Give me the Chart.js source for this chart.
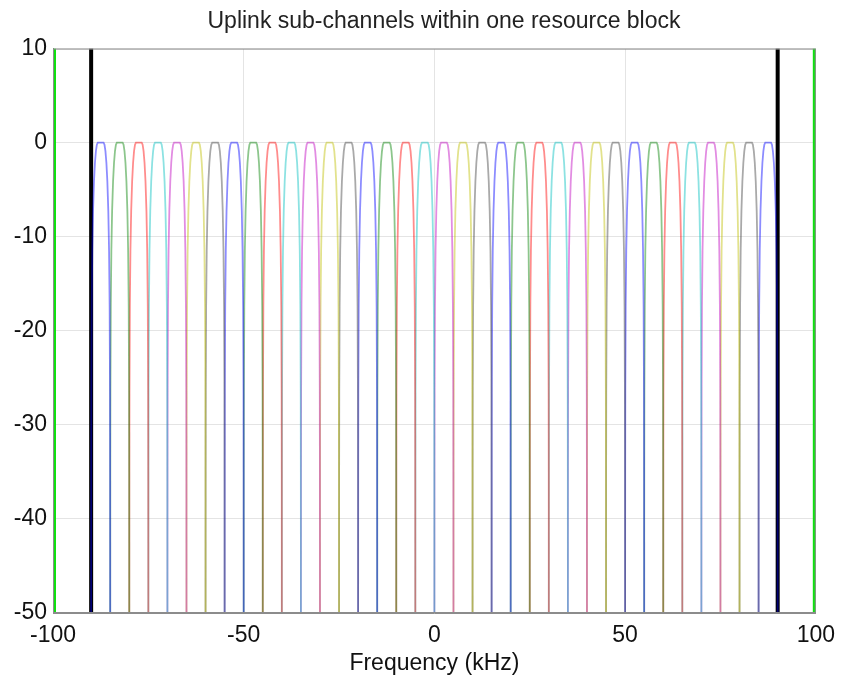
<!DOCTYPE html>
<html>
<head>
<meta charset="utf-8">
<title>Uplink sub-channels within one resource block</title>
<script src="https://cdn.jsdelivr.net/npm/chart.js@4"></script>
<style>
  html, body { margin: 0; padding: 0; background: #ffffff; }
  #wrap { width: 844px; height: 681px; }
</style>
</head>
<body>
<div id="wrap"><canvas id="chart" width="844" height="681"></canvas></div>
<script>
// Sub-channel centre frequencies (kHz): 36 channels, 5 kHz apart
const channelCenters = [
  -87.5, -82.5, -77.5, -72.5, -67.5, -62.5, -57.5, -52.5, -47.5,
  -42.5, -37.5, -32.5, -27.5, -22.5, -17.5, -12.5, -7.5, -2.5,
   2.5,   7.5,  12.5,  17.5,  22.5,  27.5,  32.5,  37.5,  42.5,
  47.5,  52.5,  57.5,  62.5,  67.5,  72.5,  77.5,  82.5,  87.5
];

// Passband response of one sub-channel: offset from centre (kHz) and level (dB)
const shapeOffsets = [-2.5, -2.48, -2.45, -2.35, -2.2, -2.0, -1.75, -1.5, -1.25, -1.0, -0.75,
                       0.75, 1.0, 1.25, 1.5, 1.75, 2.0, 2.2, 2.35, 2.45, 2.48, 2.5];
const shapeLevels  = [-50, -35, -26.7, -17.4, -11.5, -7.25, -4.1, -2.14, -0.91, -0.22, 0,
                       0, -0.22, -0.91, -2.14, -4.1, -7.25, -11.5, -17.4, -26.7, -35, -50];

// Resource block edges (kHz) and the outer band edges (kHz)
const blockEdges = [-90, 90];
const bandEdges = [-100, 100];

// Axis ticks
const xTicks = [-100, -50, 0, 50, 100];
const yTicks = [-50, -40, -30, -20, -10, 0, 10];

// Line colours cycled over the channels
const channelColors = [
  'rgba(0,0,255,0.45)',
  'rgba(0,128,0,0.45)',
  'rgba(255,0,0,0.45)',
  'rgba(0,191,191,0.45)',
  'rgba(191,0,191,0.45)',
  'rgba(191,191,0,0.45)',
  'rgba(64,64,64,0.45)'
];

const FONT = "'Liberation Sans', Helvetica, Arial, sans-serif";

const datasets = [];
channelCenters.forEach((c, i) => {
  datasets.push({
    label: 'ch' + (i + 1),
    data: shapeOffsets.map((o, k) => ({ x: c + o, y: shapeLevels[k] })),
    borderColor: channelColors[i % channelColors.length],
    borderWidth: 1.8,
    pointRadius: 0,
    // a tiny tension keeps every vertex (no per-pixel path shortcut)
    tension: 0.001,
    fill: false
  });
});
blockEdges.forEach(x => {
  datasets.push({
    label: 'block edge',
    data: [{ x: x, y: -50 }, { x: x, y: 10 }],
    borderColor: '#000000',
    borderWidth: 4,
    pointRadius: 0,
    fill: false
  });
});
bandEdges.forEach(x => {
  datasets.push({
    label: 'band edge',
    data: [{ x: x, y: -50 }, { x: x, y: 10 }],
    borderColor: '#10e010',
    borderWidth: 6,
    pointRadius: 0,
    fill: false
  });
});

// Frame around the plotting area; title centred over the figure body
const boxPlugin = {
  id: 'box',
  afterLayout(chart) {
    const t = chart.titleBlock;
    if (t) { t.left = 71; t.right = 817; t.width = t.right - t.left; }
  },
  afterDatasetsDraw(chart) {
    const a = chart.chartArea, ctx = chart.ctx;
    ctx.save();
    ctx.strokeStyle = '#8c8c8c';
    ctx.lineWidth = 1;
    ctx.strokeRect(a.left + 0.5, a.top + 0.5, a.right - a.left - 1, a.bottom - a.top - 1);
    ctx.restore();
  }
};

new Chart(document.getElementById('chart'), {
  type: 'line',
  data: { datasets },
  plugins: [boxPlugin],
  options: {
    responsive: false,
    animation: false,
    layout: { padding: { left: 0, right: 27, top: 0, bottom: 0 } },
    plugins: {
      legend: { display: false },
      tooltip: { enabled: false },
      title: {
        display: true,
        text: 'Uplink sub-channels within one resource block',
        color: '#222222',
        font: { family: FONT, size: 23, weight: 'normal', lineHeight: 1.2 },
        padding: { top: 8, bottom: 13 }
      }
    },
    scales: {
      x: {
        type: 'linear',
        min: -100,
        max: 100,
        afterBuildTicks(scale) { scale.ticks = xTicks.map(v => ({ value: v })); },
        afterFit(scale) { scale.height = 68; },
        ticks: { color: '#111111', font: { family: FONT, size: 23 }, padding: 9, maxRotation: 0 },
        grid: { color: '#e4e4e4', drawTicks: false },
        border: { color: '#8c8c8c' },
        title: {
          display: true,
          text: 'Frequency (kHz)',
          color: '#111111',
          font: { family: FONT, size: 23 },
          padding: { top: 0, bottom: 4 }
        }
      },
      y: {
        type: 'linear',
        min: -50,
        max: 10,
        afterBuildTicks(scale) { scale.ticks = yTicks.map(v => ({ value: v })); },
        afterFit(scale) { scale.width = 53; },
        ticks: { color: '#111111', font: { family: FONT, size: 23 }, padding: 6 },
        grid: { color: '#e4e4e4', drawTicks: false },
        border: { color: '#8c8c8c' }
      }
    }
  }
});
</script>
</body>
</html>
